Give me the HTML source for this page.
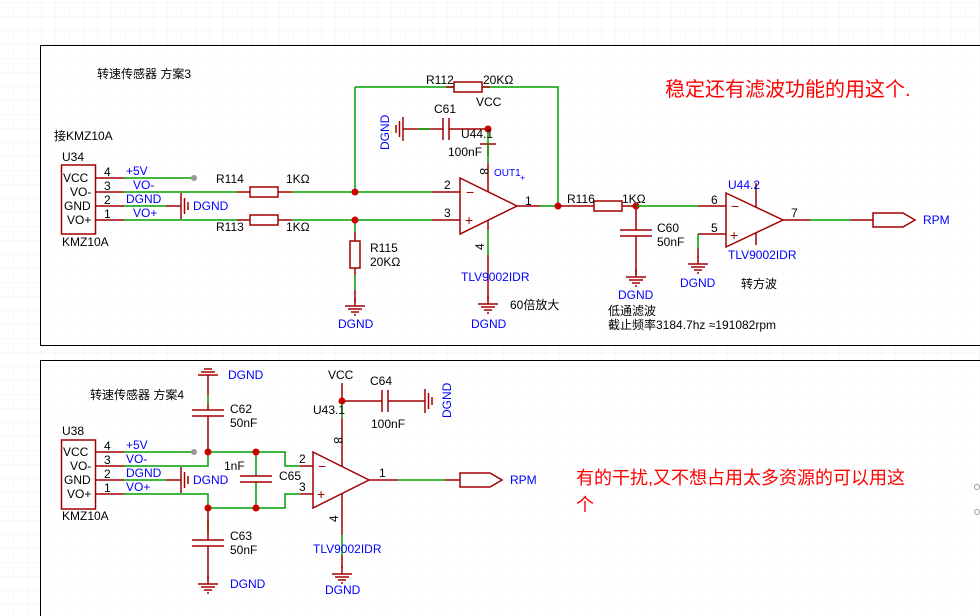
<!DOCTYPE html>
<html><head><meta charset="utf-8"><style>
html,body{margin:0;padding:0;background:#fff;width:980px;height:616px;overflow:hidden;}
svg{display:block;}
text{font-family:"Liberation Sans","Noto Sans CJK SC",sans-serif;font-size:12px;}
.b{fill:#0000ff}.k{fill:#000}
.r{stroke:#a00000;stroke-width:1.5;fill:none}
.g{stroke:#00a000;stroke-width:1.5;fill:none}
.rf{fill:#fff;stroke:#a00000;stroke-width:1.5}
</style></head><body>
<svg width="980" height="616" viewBox="0 0 980 616" xmlns="http://www.w3.org/2000/svg">
<defs>
<pattern id="grid" width="14" height="14" patternUnits="userSpaceOnUse" x="0" y="3">
<path d="M14 0V14M0 14H14" stroke="#f0f0f0" stroke-width="1" fill="none"/>
</pattern>
<g id="gnd"><path class="r" d="M0 0V8M-10 8H10M-7 11H7M-4 14H4M-1 17H1"/></g>
</defs>
<rect width="980" height="616" fill="url(#grid)"/>
<path d="M980 45.5H40.5V345.5H980" fill="#fff" fill-opacity="0.6" stroke="#000" stroke-width="1"/>
<path d="M980 360.5H40.5V616" fill="none" stroke="#000" stroke-width="1"/>
<rect x="41" y="361" width="939" height="255" fill="#fff" fill-opacity="0.6"/>

<!-- ===== TOP ===== -->
<text class="k" x="97" y="78">转速传感器  方案3</text>
<text class="k" x="54" y="140">接KMZ10A</text>
<text class="k" x="62" y="161">U34</text>
<rect x="61.5" y="165" width="34" height="69" class="r"/>
<text class="k" x="63" y="182">VCC</text>
<text class="k" x="70" y="196">VO-</text>
<text class="k" x="64" y="210">GND</text>
<text class="k" x="67" y="224">VO+</text>
<text class="k" x="62" y="246">KMZ10A</text>
<path class="r" d="M96 178H124M96 192H124M96 206H124M96 220H124"/>
<text class="k" x="104" y="176">4</text><text class="k" x="104" y="190">3</text>
<text class="k" x="104" y="204">2</text><text class="k" x="104" y="218">1</text>
<text class="b" x="126" y="175">+5V</text><text class="b" x="133" y="189">VO-</text>
<text class="b" x="126" y="203">DGND</text><text class="b" x="133" y="217">VO+</text>
<path class="g" d="M124 178H194M124 192H237M124 206H166M124 220H237"/>
<circle cx="194" cy="178" r="3" fill="#999"/>
<path class="r" d="M166 206H181M181 193V219M184.5 198V214M188 202V210"/>
<text class="b" x="193" y="210">DGND</text>
<path class="r" d="M237 192H250M278 192H292M237 220H250M278 220H292"/>
<rect class="rf" x="250" y="187" width="28" height="10"/>
<rect class="rf" x="250" y="215" width="28" height="10"/>
<text class="k" x="216" y="183">R114</text><text class="k" x="286" y="183">1KΩ</text>
<text class="k" x="216" y="231">R113</text><text class="k" x="286" y="231">1KΩ</text>
<path class="g" d="M292 192H432M292 220H432M355 87H454M482 87H558V206M355 87V192M355 220V232M355 275V290"/>
<path class="r" d="M432 192H460M432 220H460M355 232V241M355 268V275M355 290V302"/>
<rect class="rf" x="350" y="241" width="10" height="27"/>
<text class="k" x="370" y="252">R115</text><text class="k" x="370" y="266">20KΩ</text>
<use href="#gnd" x="355" y="298"/>
<text class="b" x="338" y="328">DGND</text>
<circle cx="355" cy="192" r="3.5" fill="#d00000"/><circle cx="355" cy="220" r="3.5" fill="#d00000"/>
<path class="r" d="M446 87H454M482 87H490"/>
<rect class="rf" x="454" y="82" width="28" height="10"/>
<text class="k" x="426" y="84">R112</text><text class="k" x="483" y="84">20KΩ</text>
<path class="r" d="M460 178L517 206L460 234Z"/>
<text x="466" y="197" style="font-size:14px;fill:#a00000">−</text>
<text x="465" y="225" style="font-size:14px;fill:#a00000">+</text>
<text class="k" x="444" y="189">2</text><text class="k" x="444" y="217">3</text>
<path class="r" d="M480 144H496M488 144V156M488 163V192M488 220V230M488 255V300M517 206H540"/>
<path class="g" d="M488 129V163M488 230V255M540 206H558"/>
<text class="k" x="476" y="106">VCC</text>
<circle cx="488" cy="129" r="3.5" fill="#d00000"/>
<text class="k" transform="translate(480,168) rotate(90)">8</text>
<text class="k" transform="translate(484,250) rotate(-90)">4</text>
<text class="b" x="494" y="176" style="font-size:10px">OUT1</text>
<text class="b" x="520" y="181" style="font-size:9px">+</text>
<text class="k" x="525" y="205">1</text>
<text class="k" x="461" y="138">U44.1</text>
<text class="k" x="448" y="156">100nF</text>
<text class="b" x="461" y="281">TLV9002IDR</text>
<use href="#gnd" x="488" y="296"/>
<text class="b" x="471" y="328">DGND</text>
<text class="k" x="510" y="309">60倍放大</text>
<path class="r" d="M488 129H449M443 129H418M443 118V140M449 118V140M403 129H418M403 117V141M399.5 121V137M396 125V133"/>
<path class="g" d="M418 129H430" />
<text class="k" x="434" y="113">C61</text>
<text class="b" transform="translate(389,150) rotate(-90)">DGND</text>
<circle cx="558" cy="206" r="3.5" fill="#d00000"/>
<path class="r" d="M558 206H594M622 206H636M636 206V230M620 230H652M620 236H652M636 236V274"/>
<rect class="rf" x="594" y="201" width="28" height="10"/>
<text class="k" x="567" y="203">R116</text><text class="k" x="622" y="203">1KΩ</text>
<circle cx="636" cy="206" r="3.5" fill="#d00000"/>
<use href="#gnd" x="636" y="269"/>
<text class="k" x="657" y="232">C60</text><text class="k" x="657" y="246">50nF</text>
<text class="b" x="618" y="299">DGND</text>
<text class="k" x="608" y="315">低通滤波</text>
<text class="k" x="608" y="329">截止频率3184.7hz ≈191082rpm</text>
<path class="g" d="M636 206H698M698 234V248"/>
<path class="r" d="M698 206H726M726 234H698M698 248V258"/>
<use href="#gnd" x="698" y="256"/>
<text class="b" x="680" y="287">DGND</text>
<path class="r" d="M726 193L783 220L726 247Z"/>
<path class="r" d="M756 183V207M756 233V245M783 220H810M850 220H873"/>
<text x="731" y="211" style="font-size:14px;fill:#a00000">−</text>
<text x="730" y="240" style="font-size:14px;fill:#a00000">+</text>
<text class="k" x="711" y="204">6</text><text class="k" x="711" y="232">5</text>
<text class="k" x="791" y="217">7</text>
<text class="b" x="728" y="189">U44.2</text>
<text class="b" x="728" y="259">TLV9002IDR</text>
<text class="k" x="741" y="288">转方波</text>
<path class="g" d="M810 220H850"/>
<path class="r" d="M873 213H903L915 220L903 227H873Z"/>
<text class="b" x="923" y="224">RPM</text>
<text x="665" y="96" style="font-size:20px;fill:#ff0000">稳定还有滤波功能的用这个.</text>

<!-- ===== BOTTOM ===== -->
<text class="k" x="90" y="399">转速传感器  方案4</text>
<text class="k" x="62" y="435">U38</text>
<rect x="61.5" y="440" width="34" height="69" class="r"/>
<text class="k" x="63" y="456">VCC</text>
<text class="k" x="70" y="470">VO-</text>
<text class="k" x="64" y="484">GND</text>
<text class="k" x="67" y="498">VO+</text>
<text class="k" x="62" y="520">KMZ10A</text>
<path class="r" d="M96 452H124M96 466H124M96 480H124M96 494H124"/>
<text class="k" x="104" y="450">4</text><text class="k" x="104" y="464">3</text>
<text class="k" x="104" y="478">2</text><text class="k" x="104" y="492">1</text>
<text class="b" x="126" y="449">+5V</text><text class="b" x="126" y="463">VO-</text>
<text class="b" x="126" y="477">DGND</text><text class="b" x="126" y="491">VO+</text>
<path class="g" d="M124 452H194M124 466H208V452H285V466H300M124 480H166M124 494H208V508H285V494H300M256 452V475M256 483V508M208 395V403M208 521V532"/>
<circle cx="194" cy="452" r="3" fill="#999"/>
<path class="r" d="M166 480H181M181 467V493M184.5 472V488M188 476V484"/>
<text class="b" x="193" y="484">DGND</text>
<circle cx="208" cy="452" r="3.5" fill="#d00000"/><circle cx="256" cy="452" r="3.5" fill="#d00000"/>
<circle cx="208" cy="508" r="3.5" fill="#d00000"/><circle cx="256" cy="508" r="3.5" fill="#d00000"/>
<path class="r" d="M208 375V395M208 416V452M192 410H224M192 416H224M208 403V410M198 375H218M201 372H215M204 369H212"/>
<text class="b" x="228" y="379">DGND</text>
<text class="k" x="230" y="413">C62</text><text class="k" x="230" y="427">50nF</text>
<path class="r" d="M208 508V540M208 546V580M192 540H224M192 546H224"/>
<use href="#gnd" x="208" y="576"/>
<text class="k" x="230" y="540">C63</text><text class="k" x="230" y="554">50nF</text>
<text class="b" x="230" y="588">DGND</text>
<path class="r" d="M240 476H272M240 482H272M256 475V476M256 482V483"/>
<text class="k" x="224" y="470">1nF</text><text class="k" x="279" y="480">C65</text>
<path class="r" d="M300 466H313M300 494H313M313 452L369 480L313 508Z"/>
<text x="318" y="471" style="font-size:14px;fill:#a00000">−</text>
<text x="317" y="499" style="font-size:14px;fill:#a00000">+</text>
<text class="k" x="299" y="463">2</text><text class="k" x="299" y="491">3</text>
<text class="k" x="379" y="477">1</text>
<path class="r" d="M342 383V401M342 418V466M342 494V535M342 555V568M369 480H398M445 480H460"/>
<path class="g" d="M342 401V418M342 535V555M398 480H445"/>
<circle cx="342" cy="401" r="3.5" fill="#d00000"/>
<text class="k" x="328" y="379">VCC</text>
<text class="k" transform="translate(334,437) rotate(90)">8</text>
<text class="k" transform="translate(338,522) rotate(-90)">4</text>
<text class="k" x="313" y="414">U43.1</text>
<text class="b" x="313" y="553">TLV9002IDR</text>
<use href="#gnd" x="342" y="566"/>
<text class="b" x="325" y="594">DGND</text>
<path class="r" d="M342 401H382M388 401H425M382 390V412M388 390V412M425 389V413M428.5 393V409M432 397V405"/>
<text class="k" x="370" y="385">C64</text><text class="k" x="371" y="428">100nF</text>
<text class="b" transform="translate(451,418) rotate(-90)">DGND</text>
<path class="r" d="M460 473H490L502 480L490 487H460Z"/>
<text class="b" x="510" y="484">RPM</text>
<text x="576" y="484" style="font-size:18px;fill:#ff0000">有的干扰,又不想占用太多资源的可以用这</text>
<text x="576" y="511" style="font-size:18px;fill:#ff0000">个</text>
<circle cx="977" cy="487" r="2.5" fill="none" stroke="#999"/>
<circle cx="977" cy="512" r="2.5" fill="none" stroke="#999"/>
</svg>
</body></html>
